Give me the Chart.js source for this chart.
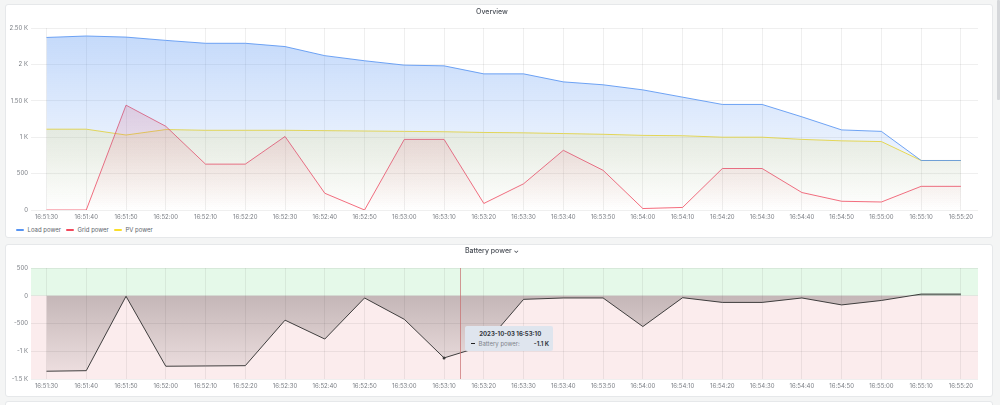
<!DOCTYPE html>
<html>
<head>
<meta charset="utf-8">
<script src="https://cdn.jsdelivr.net/npm/chart.js@4.4.0/dist/chart.umd.min.js"></script>
<style>
  html, body { margin: 0; padding: 0; }
  body { width: 1000px; height: 405px; background: #f4f5f5; position: relative; overflow: hidden; font-family: Inter, "Noto Sans", sans-serif; }
  .panel { position: absolute; background: #fff; border: 1px solid #e6e8ea; border-radius: 3px; box-sizing: border-box; }
  .panel canvas { position: absolute; left: 0; top: 0; }
  #legend { position: absolute; left: 10px; top: 221px; display: flex; align-items: center; font-size: 6px; color: #62666d; }
  #legend .item { display: flex; align-items: center; margin-right: 5px; }
  #legend .sw { width: 8px; height: 2px; margin-right: 3.5px; border-radius: 1px; }
  #tip { position: absolute; background: #dfe5ee; border-radius: 2px; padding: 4px 4px 4px 6px; font-size: 6px; color: #34383e; white-space: nowrap; }
  #tip .t { font-weight: 700; text-align: center; margin-bottom: 3px; }
  #tip .r { display: flex; align-items: center; }
  #tip .sw { width: 4px; height: 1.5px; background: #222; margin-right: 3px; }
  #tip .lab { color: #80848b; margin-right: 14px; }
  #tip .val { font-weight: 700; }
  #scroll { position: absolute; left: 997px; top: 0; width: 3px; height: 100px; background: #d5d7da; border-radius: 1px; }
  #p3 { left: 5px; top: 401px; width: 988px; height: 20px; }
</style>
</head>
<body>
<div class="panel" id="p1" style="left:5px;top:4px;width:988px;height:234px;">
  <canvas id="overview" width="988" height="220"></canvas>
  <div id="legend"></div>
</div>
<div class="panel" id="p2" style="left:5px;top:244px;width:988px;height:153px;">
  <canvas id="battery" width="988" height="153"></canvas>
  <div id="tip"></div>
</div>
<div class="panel" id="p3"></div>
<div id="scroll"></div>

<script>
// seconds after 16:51:30
let secs = [0, 10, 20, 30, 40, 50, 60, 70, 80, 90, 100, 110, 120, 130, 140, 150, 160, 170, 180, 190, 200, 210, 220, 230];
let timeLabels = ["16:51:30", "16:51:40", "16:51:50", "16:52:00", "16:52:10", "16:52:20", "16:52:30", "16:52:40",
  "16:52:50", "16:53:00", "16:53:10", "16:53:20", "16:53:30", "16:53:40", "16:53:50", "16:54:00", "16:54:10",
  "16:54:20", "16:54:30", "16:54:40", "16:54:50", "16:55:00", "16:55:10", "16:55:20"];

let loadPower = [2370, 2390, 2375, 2330, 2290, 2290, 2245, 2120, 2050, 1990, 1980, 1870, 1870, 1760, 1720, 1650,
  1550, 1450, 1450, 1280, 1100, 1080, 680, 680];
let gridPower = [0, 0, 1440, 1150, 630, 630, 1010, 230, 0, 970, 970, 90, 360, 820, 545, 20,
  35, 570, 570, 240, 120, 110, 325, 325];
let pvPower = [1110, 1110, 1030, 1105, 1095, 1095, 1095, 1090, 1085, 1080, 1075, 1065, 1060, 1050, 1040, 1025,
  1020, 1000, 1000, 970, 950, 940, 680, 680];
let batteryPower = [-1360, -1350, -10, -1270, -1265, -1260, -440, -780, -40, -425, -1120, -900, -65, -40, -40, -555,
  -35, -120, -120, -40, -165, -85, 30, 30];

let overviewTicks = [0, 500, 1000, 1500, 2000, 2500];
let overviewTickLabels = ["0", "500", "1 K", "1.50 K", "2 K", "2.50 K"];
let batteryTicks = [-1500, -1000, -500, 0, 500];
let batteryTickLabels = ["-1.5 K", "-1 K", "-500", "0", "500"];

let series = [
  { label: "Load power", data: loadPower, color: [87, 148, 242], line: 0.85 },
  { label: "Grid power", data: gridPower, color: [242, 73, 92], line: 0.8 },
  { label: "PV power", data: pvPower, color: [250, 222, 42], line: 0.9 },
];

// hover
let hoverIndex = 10;
let hoverSec = 104;
let hoverTitle = "2023-10-03 16:53:10";
let hoverValue = "-1.1 K";

let tickFont = { family: "Inter", size: 6 };
let tickColor = "#7a7e84";
let gridColor = "rgba(36, 41, 46, 0.075)";

function rgba(c, a) {
  return `rgba(${c[0]}, ${c[1]}, ${c[2]}, ${a})`;
}

function fadeFill(c, a) {
  return (ctx) => {
    let area = ctx.chart.chartArea;
    if (!area) return rgba(c, a / 2);
    let g = ctx.chart.ctx.createLinearGradient(0, area.top, 0, area.bottom);
    g.addColorStop(0, rgba(c, a));
    g.addColorStop(1, rgba(c, 0));
    return g;
  };
}

function xAxis(height) {
  return {
    type: "linear",
    min: -3.9,
    max: 234.3,
    afterBuildTicks: (axis) => {
      axis.ticks = secs.map((v) => ({ value: v }));
    },
    afterFit: (axis) => {
      axis.height = height;
    },
    ticks: {
      font: tickFont,
      color: tickColor,
      padding: 4,
      maxRotation: 0,
      autoSkip: false,
      callback: (v) => timeLabels[secs.indexOf(v)],
    },
    grid: { color: gridColor, drawTicks: false },
    border: { display: false },
  };
}

function yAxis(min, max, values, labels) {
  return {
    min: min,
    max: max,
    afterBuildTicks: (axis) => {
      axis.ticks = values.map((v) => ({ value: v }));
    },
    afterFit: (axis) => {
      axis.width = 25;
    },
    ticks: {
      font: tickFont,
      color: tickColor,
      padding: 3,
      callback: (v) => labels[values.indexOf(v)],
    },
    grid: { color: gridColor, drawTicks: false },
    border: { display: false },
  };
}

function panelTitle(text, top) {
  return {
    display: true,
    text: text,
    color: "#474c54",
    font: { family: "Inter", size: 7, weight: "500", lineHeight: 1.2 },
    padding: { top: top, bottom: 23 - top - 8.4 },
  };
}

// Overview
new Chart(document.getElementById("overview"), {
  type: "line",
  data: {
    datasets: series.map((s) => ({
      label: s.label,
      data: s.data.map((v, i) => ({ x: secs[i], y: v })),
      borderColor: rgba(s.color, s.line),
      backgroundColor: fadeFill(s.color, 0.36),
      borderWidth: 1,
      pointRadius: 0,
      fill: "origin",
      tension: 0,
    })),
  },
  options: {
    responsive: false,
    animation: false,
    layout: { padding: { left: 0, right: 16, top: 0, bottom: 0 } },
    plugins: {
      legend: { display: false },
      tooltip: { enabled: false },
      title: panelTitle("Overview", 3),
    },
    scales: {
      x: xAxis(15),
      y: yAxis(0, 2500, overviewTicks, overviewTickLabels),
    },
  },
});

let legend = document.getElementById("legend");
series.forEach((s) => {
  legend.innerHTML += `<div class="item"><div class="sw" style="background:${rgba(s.color, 1)}"></div>${s.label}</div>`;
});

// Battery power
let thresholdBands = {
  id: "thresholdBands",
  beforeDraw(chart) {
    let { ctx, chartArea } = chart;
    let zero = chart.scales.y.getPixelForValue(0);
    ctx.save();
    ctx.fillStyle = "#e5f9e9";
    ctx.fillRect(chartArea.left, chartArea.top, chartArea.width, zero - chartArea.top);
    ctx.fillStyle = "#fbeced";
    ctx.fillRect(chartArea.left, zero, chartArea.width, chartArea.bottom - zero);
    ctx.restore();
  },
};

let crosshair = {
  id: "crosshair",
  afterDatasetsDraw(chart) {
    let { ctx, chartArea } = chart;
    let x = Math.round(chart.scales.x.getPixelForValue(hoverSec)) + 0.5;
    ctx.save();
    ctx.strokeStyle = "rgba(200, 110, 110, 0.7)";
    ctx.lineWidth = 1;
    ctx.beginPath();
    ctx.moveTo(x, chartArea.top);
    ctx.lineTo(x, chartArea.bottom);
    ctx.stroke();
    ctx.restore();
  },
};

let battery = new Chart(document.getElementById("battery"), {
  type: "line",
  data: {
    datasets: [
      {
        label: "Battery power",
        data: batteryPower.map((v, i) => ({ x: secs[i], y: v })),
        borderColor: "rgba(45, 45, 45, 0.9)",
        borderWidth: 1,
        backgroundColor: (ctx) => {
          let chart = ctx.chart;
          let area = chart.chartArea;
          if (!area) return "rgba(0,0,0,0.15)";
          let zero = chart.scales.y.getPixelForValue(0);
          let g = chart.ctx.createLinearGradient(0, zero, 0, area.bottom);
          g.addColorStop(0, "rgba(40, 30, 30, 0.26)");
          g.addColorStop(1, "rgba(40, 30, 30, 0.05)");
          return g;
        },
        pointRadius: (ctx) => (ctx.dataIndex === hoverIndex ? 1.5 : 0),
        pointBackgroundColor: "#3b3b3b",
        pointBorderWidth: 0,
        fill: "origin",
        tension: 0,
      },
    ],
  },
  options: {
    responsive: false,
    animation: false,
    layout: { padding: { left: 0, right: 16, top: 0, bottom: 0 } },
    plugins: {
      legend: { display: false },
      tooltip: { enabled: false },
      title: panelTitle("Battery power \u2304", 2),
    },
    scales: {
      x: xAxis(19),
      y: yAxis(-1500, 500, batteryTicks, batteryTickLabels),
    },
  },
  plugins: [thresholdBands, crosshair],
});

let tip = document.getElementById("tip");
tip.innerHTML = `<div class="t">${hoverTitle}</div><div class="r"><div class="sw"></div><span class="lab">Battery power:</span><span class="val">${hoverValue}</span></div>`;
tip.style.left = battery.scales.x.getPixelForValue(hoverSec) + 5.5 + "px";
tip.style.top = battery.scales.y.getPixelForValue(batteryPower[hoverIndex]) - 32 + "px";
</script>
</body>
</html>
